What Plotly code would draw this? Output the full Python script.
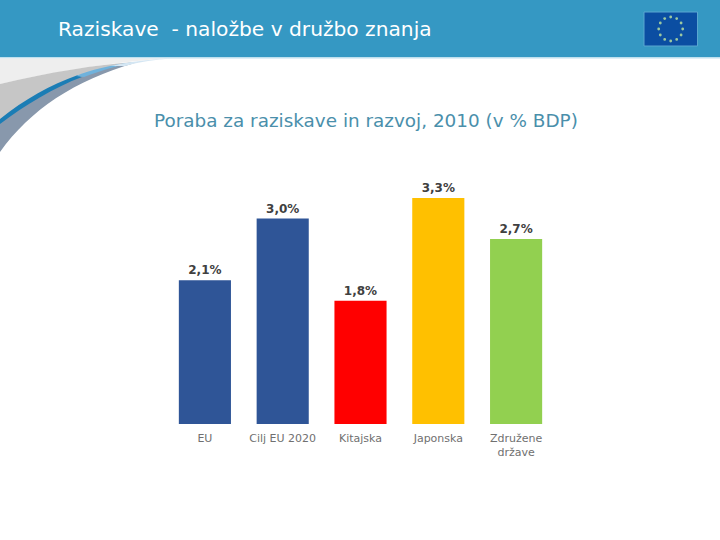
import math
import plotly.graph_objects as go

categories = ["EU", "Cilj EU 2020", "Kitajska", "Japonska", "Združene<br>države"]
values = [2.1, 3.0, 1.8, 3.3, 2.7]
value_labels = ["2,1%", "3,0%", "1,8%", "3,3%", "2,7%"]
bar_colors = ["#2F5597", "#2F5597", "#FF0000", "#FFC000", "#92D050"]
title_text = "Raziskave  - naložbe v družbo znanja"
subtitle_text = "Poraba za raziskave in razvoj, 2010 (v % BDP)"

W, H = 720, 540
FONT = "DejaVu Sans"

def px(x): return x / W
def py(y): return 1 - y / H

def path(s):
    # pixel-space decoration path -> paper coordinates
    out = []
    for tok in s.split():
        if "," in tok:
            a, b = tok.split(",")
            out.append(f"{px(float(a)):.5f},{py(float(b)):.5f}")
        else:
            out.append(tok)
    return " ".join(out)

def deco(s, color):
    return dict(type="path", xref="paper", yref="paper", path=path(s),
                fillcolor=color, line=dict(width=0), layer="below")

def box(x0, y0, x1, y1, color, line=None):
    return dict(type="rect", xref="paper", yref="paper", x0=px(x0), x1=px(x1),
                y0=py(y0), y1=py(y1), fillcolor=color,
                line=dict(width=1 if line else 0, color=line or color), layer="below")

shapes = [
    box(0, 0, 720, 57, "#3598C3"),
    box(0, 57, 720, 58.5, "#BFE0EE"),
    deco("M 0,58.5 L 170,58.5 C 130,60 60,70 0,84 Z", "#EEEEEE"),
    deco("M 0,84 C 50,72 95,65 135,62 C 90,68 40,90 0,122 Z", "#C6C6C6"),
    deco("M 0,152 C 30,110 75,80 135,63 C 90,68 40,90 0,122 Z", "#8898AC"),
    deco("M 0,119 C 25,99 50,85 78,75 L 82,77 C 55,87 25,105 0,124 Z", "#1B7DB5"),
    deco("M 76,76 C 90,70 110,65 135,62 C 115,66 100,71 84,77 Z", "#6FB2DC"),
    deco("M 110,66 C 125,63 140,60 170,58.5 C 150,60 135,63 125,66 Z", "#D4E6F3"),
    box(644, 12, 697.5, 46, "#0B4EA2", "#5AA6D0"),
]
cx, cy, r = 670.7, 29, 12
for i in range(12):
    a = math.radians(30 * i)
    sx, sy = cx + r * math.sin(a), cy - r * math.cos(a)
    shapes.append(dict(type="circle", xref="paper", yref="paper",
                       x0=px(sx - 1.4), x1=px(sx + 1.4), y0=py(sy + 1.4), y1=py(sy - 1.4),
                       fillcolor="#9CC8A0", line=dict(width=0), layer="above"))

fig = go.Figure(go.Bar(
    x=categories, y=values, width=0.67,
    marker=dict(color=bar_colors, line=dict(width=0)),
    text=value_labels, textposition="outside", cliponaxis=False,
    textfont=dict(family=FONT, size=12, color="#404040", weight="bold"),
))

annotations = [
    dict(text=title_text, x=px(55.5), y=py(29), xref="paper", yref="paper", xanchor="left",
         yanchor="middle", showarrow=False, font=dict(family=FONT, size=20.2, color="#FFFFFF")),
    dict(text=subtitle_text, x=px(366), y=py(120), xref="paper", yref="paper", xanchor="center",
         yanchor="middle", showarrow=False, font=dict(family=FONT, size=18.4, color="#4A8FAB")),
]

fig.update_layout(
    width=W, height=H, margin=dict(l=0, r=0, t=0, b=0), autosize=False,
    paper_bgcolor="white", plot_bgcolor="white", showlegend=False,
    shapes=shapes, annotations=annotations,
    xaxis=dict(domain=[px(166), px(555)], range=[-0.5, 4.5], showgrid=False, zeroline=False,
               showline=False, ticks="", ticklabelstandoff=6,
               tickfont=dict(family=FONT, size=11, color="#707070")),
    yaxis=dict(domain=[py(424), py(170)], range=[0, 254 / 68.5], showgrid=False, zeroline=False,
               showline=False, showticklabels=False, ticks=""),
)
fig.write_html("out.html", config={"displayModeBar": False},
               post_script="document.body.style.margin='0';")
